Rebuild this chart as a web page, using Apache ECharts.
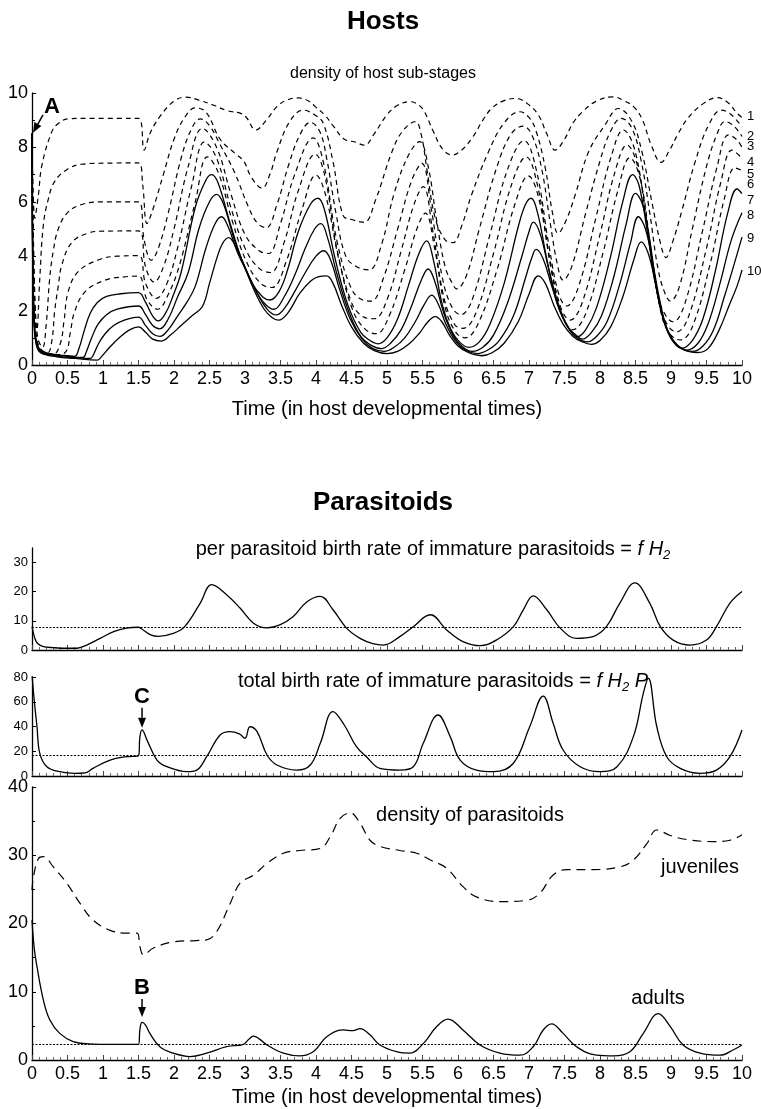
<!DOCTYPE html>
<html>
<head>
<meta charset="utf-8">
<script src="https://cdn.jsdelivr.net/npm/echarts/dist/echarts.min.js"></script>
<style>
  html, body { margin: 0; padding: 0; background: #fff; }
  #chart { width: 761px; height: 1109px; }
</style>
</head>
<body>
<div id="chart"></div>
<script>
// Host sub-stage densities, [time, density] (stage 1 = youngest)
const stage1 = [[0,8.5],[0.04,5.4],[0.09,6.25],[0.14,7.35],[0.28,8.58],[0.37,8.88],[0.51,9.05],[0.8,9.07],[1.5,9.07],[1.58,7.9],[1.66,8.5],[1.8,9.13],[2.0,9.7],[2.17,9.85],[2.35,9.74],[2.55,9.56],[2.75,9.35],[2.93,9.26],[3.02,9.1],[3.15,8.64],[3.3,9.0],[3.45,9.5],[3.6,9.75],[3.75,9.82],[3.9,9.7],[3.99,9.5],[4.12,9.2],[4.24,8.8],[4.4,8.3],[4.55,8.2],[4.68,8.08],[4.82,8.5],[5.0,9.2],[5.15,9.55],[5.33,9.68],[5.45,9.55],[5.53,9.3],[5.65,8.6],[5.78,7.95],[5.92,7.72],[6.05,7.9],[6.2,8.35],[6.35,9.0],[6.48,9.45],[6.65,9.72],[6.82,9.8],[6.98,9.6],[7.13,9.2],[7.25,8.5],[7.37,7.9],[7.5,8.3],[7.62,8.9],[7.75,9.3],[7.95,9.7],[8.18,9.86],[8.35,9.7],[8.49,9.45],[8.6,9.0],[8.72,8.1],[8.86,7.45],[8.98,7.9],[9.1,8.5],[9.24,9.08],[9.45,9.6],[9.65,9.83],[9.8,9.65],[9.93,9.26],[10,9.1]];
const stage2 = [[0,8.5],[0.03,3.5],[0.07,1.3],[0.11,3.2],[0.16,5.15],[0.23,6.1],[0.32,6.75],[0.5,7.2],[0.7,7.38],[1.0,7.42],[1.5,7.43],[1.56,6.6],[1.62,5.2],[1.7,5.7],[1.85,7.0],[2.0,8.3],[2.15,9.1],[2.3,9.45],[2.45,9.3],[2.65,8.3],[2.85,7.8],[2.98,7.5],[3.09,6.9],[3.24,6.5],[3.35,7.0],[3.45,7.84],[3.63,8.95],[3.82,9.37],[3.98,9.2],[4.1,8.9],[4.24,7.47],[4.38,5.5],[4.5,5.35],[4.68,5.25],[4.83,6.0],[5.07,7.84],[5.22,8.6],[5.4,8.95],[5.48,8.5],[5.56,7.23],[5.68,5.39],[5.82,4.6],[5.93,4.5],[6.05,5.1],[6.19,6.25],[6.43,7.84],[6.65,8.9],[6.87,9.31],[7.0,9.1],[7.1,8.6],[7.23,7.23],[7.33,5.6],[7.41,4.84],[7.52,5.3],[7.65,6.25],[7.84,7.84],[8.07,8.82],[8.26,9.43],[8.45,8.95],[8.59,7.84],[8.73,6.0],[8.85,4.5],[8.93,3.95],[9.02,4.5],[9.15,5.64],[9.34,7.47],[9.53,8.82],[9.71,9.37],[9.85,9.2],[10,8.75]];
const stage3 = [[0,8.5],[0.03,3.0],[0.08,1.0],[0.15,0.65],[0.2,1.5],[0.25,3.2],[0.3,4.2],[0.37,5.0],[0.5,5.6],[0.7,5.9],[1.0,6.0],[1.5,6.0],[1.58,4.6],[1.68,3.85],[1.78,4.3],[1.92,5.6],[2.1,7.6],[2.25,8.7],[2.37,9.05],[2.5,8.8],[2.65,8.1],[2.85,7.1],[3.05,5.8],[3.18,5.2],[3.3,5.05],[3.45,5.9],[3.62,7.4],[3.78,8.5],[3.92,8.92],[4.05,8.6],[4.15,7.6],[4.28,5.6],[4.42,4.0],[4.58,3.6],[4.75,3.5],[4.92,4.4],[5.1,6.3],[5.3,7.7],[5.46,8.21],[5.58,7.3],[5.7,5.3],[5.82,3.6],[5.92,3.0],[5.98,2.8],[6.12,3.3],[6.3,5.0],[6.55,7.3],[6.75,8.5],[6.92,8.78],[7.05,8.4],[7.18,7.2],[7.3,5.2],[7.4,3.7],[7.48,3.12],[7.6,3.6],[7.8,5.6],[8.0,7.5],[8.15,8.6],[8.3,9.07],[8.45,8.7],[8.58,7.5],[8.7,5.6],[8.82,3.5],[8.92,2.6],[8.99,2.35],[9.12,2.9],[9.3,5.0],[9.5,7.3],[9.65,8.5],[9.76,8.95],[9.88,8.8],[10,8.4]];
const stage4 = [[0,8.5],[0.02,3.5],[0.06,1.1],[0.12,0.6],[0.22,0.45],[0.28,0.9],[0.32,2.0],[0.37,2.9],[0.42,3.68],[0.56,4.5],[0.79,4.85],[1.0,4.92],[1.5,4.93],[1.6,3.6],[1.72,3.05],[1.85,3.6],[2.0,5.0],[2.2,7.3],[2.4,8.7],[2.6,8.0],[2.8,6.3],[3.0,4.8],[3.2,4.2],[3.33,4.1],[3.5,5.2],[3.7,7.0],[3.96,8.35],[4.1,7.5],[4.3,4.5],[4.5,2.8],[4.65,2.4],[4.78,2.35],[4.95,3.2],[5.15,5.0],[5.35,6.8],[5.49,7.41],[5.62,5.8],[5.78,3.2],[5.92,2.1],[6.04,1.85],[6.2,2.4],[6.45,4.8],[6.7,7.2],[6.93,8.25],[7.1,7.2],[7.28,4.4],[7.42,2.6],[7.53,2.17],[7.7,2.9],[7.95,5.5],[8.15,7.6],[8.33,8.64],[8.5,7.8],[8.67,5.0],[8.82,2.5],[8.93,1.8],[9.03,1.59],[9.2,2.3],[9.45,5.0],[9.65,7.3],[9.81,8.46],[9.92,8.3],[10,8.0]];
const stage5 = [[0,8.5],[0.02,3.2],[0.05,1.2],[0.12,0.55],[0.3,0.4],[0.4,0.8],[0.45,1.6],[0.51,2.7],[0.65,3.43],[0.93,3.86],[1.2,4.0],[1.5,4.02],[1.6,3.0],[1.75,2.45],[1.9,3.0],[2.05,4.3],[2.25,6.6],[2.43,8.2],[2.6,7.6],[2.8,5.8],[3.0,4.3],[3.2,3.55],[3.36,3.4],[3.55,4.5],[3.75,6.4],[3.99,7.75],[4.12,7.0],[4.3,4.2],[4.5,2.3],[4.65,1.8],[4.82,1.7],[5.0,2.4],[5.2,4.2],[5.38,5.9],[5.51,6.56],[5.64,5.0],[5.8,2.5],[5.95,1.5],[6.07,1.35],[6.25,1.9],[6.5,4.1],[6.75,6.6],[6.96,7.65],[7.12,6.6],[7.3,3.8],[7.45,2.1],[7.58,1.65],[7.75,2.3],[8.0,4.8],[8.2,7.0],[8.38,8.09],[8.54,7.2],[8.7,4.5],[8.85,2.1],[8.97,1.4],[9.08,1.22],[9.25,1.8],[9.5,4.3],[9.7,6.7],[9.86,7.9],[10,7.6]];
const stage6 = [[0,8.5],[0.02,3.0],[0.05,1.1],[0.12,0.5],[0.35,0.38],[0.48,0.5],[0.54,1.2],[0.6,1.96],[0.75,2.7],[1.03,3.12],[1.3,3.24],[1.5,3.27],[1.62,2.4],[1.77,2.05],[1.92,2.6],[2.08,3.7],[2.3,6.0],[2.47,7.65],[2.62,7.1],[2.82,5.3],[3.02,3.8],[3.22,3.0],[3.38,2.85],[3.58,3.8],[3.8,5.7],[4.0,6.98],[4.13,6.3],[4.32,3.9],[4.52,2.0],[4.7,1.3],[4.85,1.15],[5.03,1.8],[5.25,3.5],[5.42,5.0],[5.54,5.58],[5.67,4.3],[5.82,2.1],[5.97,1.2],[6.1,1.0],[6.28,1.5],[6.55,3.5],[6.8,5.9],[6.99,6.95],[7.14,6.1],[7.32,3.4],[7.47,1.8],[7.62,1.3],[7.8,1.9],[8.05,4.2],[8.25,6.4],[8.42,7.62],[8.57,6.8],[8.72,4.2],[8.87,1.8],[9.0,1.1],[9.13,0.92],[9.3,1.4],[9.55,3.7],[9.75,6.1],[9.9,7.25],[10,7.15]];
const stage7 = [[0,8.5],[0.01,4.2],[0.03,1.8],[0.06,0.9],[0.12,0.55],[0.25,0.42],[0.45,0.35],[0.6,0.32],[0.66,0.6],[0.74,1.3],[0.82,1.9],[0.92,2.3],[1.05,2.52],[1.25,2.62],[1.5,2.66],[1.6,2.3],[1.7,1.8],[1.78,1.62],[1.88,1.9],[1.98,2.5],[2.1,3.4],[2.3,5.8],[2.45,6.8],[2.53,7.0],[2.62,6.7],[2.78,5.3],[2.95,3.9],[3.1,3.0],[3.25,2.5],[3.35,2.39],[3.48,2.7],[3.6,3.5],[3.75,4.9],[3.92,5.9],[4.03,6.13],[4.12,5.7],[4.27,3.9],[4.45,2.2],[4.63,1.2],[4.76,0.9],[4.87,0.78],[5.0,1.0],[5.15,1.7],[5.3,2.9],[5.45,4.1],[5.56,4.56],[5.65,3.9],[5.78,2.2],[5.9,1.3],[6.02,0.85],[6.15,0.65],[6.3,0.85],[6.45,1.5],[6.65,3.0],[6.85,5.1],[6.95,5.9],[7.03,6.13],[7.12,5.6],[7.25,3.9],[7.38,2.4],[7.5,1.6],[7.6,1.2],[7.68,1.04],[7.8,1.3],[7.95,2.1],[8.15,4.0],[8.32,6.0],[8.46,7.0],[8.55,6.6],[8.66,5.0],[8.78,3.0],[8.9,1.6],[9.02,0.9],[9.15,0.62],[9.3,0.9],[9.45,1.7],[9.62,3.4],[9.8,5.6],[9.93,6.47],[10,6.3]];
const stage8 = [[0,8.5],[0.01,4.0],[0.03,1.7],[0.06,0.85],[0.12,0.5],[0.3,0.38],[0.55,0.3],[0.72,0.28],[0.76,0.45],[0.84,1.0],[0.93,1.5],[1.05,1.85],[1.2,2.05],[1.5,2.17],[1.6,1.85],[1.7,1.45],[1.8,1.33],[1.92,1.7],[2.05,2.5],[2.2,3.4],[2.35,5.0],[2.5,6.0],[2.6,6.27],[2.7,5.9],[2.85,4.6],[3.0,3.6],[3.18,2.6],[3.3,2.2],[3.41,2.05],[3.55,2.5],[3.7,3.3],[3.85,4.3],[3.98,5.0],[4.07,5.2],[4.16,4.7],[4.3,3.3],[4.47,1.9],[4.63,1.05],[4.78,0.72],[4.92,0.6],[5.05,0.8],[5.2,1.3],[5.35,2.2],[5.48,3.1],[5.58,3.53],[5.67,3.1],[5.8,1.9],[5.93,1.1],[6.05,0.7],[6.2,0.5],[6.35,0.65],[6.5,1.1],[6.7,2.3],[6.9,4.0],[7.0,4.9],[7.06,5.25],[7.16,4.8],[7.28,3.5],[7.42,2.2],[7.55,1.4],[7.66,1.1],[7.75,0.95],[7.88,1.2],[8.02,1.8],[8.2,3.3],[8.37,5.2],[8.5,6.31],[8.6,5.9],[8.7,4.6],[8.8,2.8],[8.92,1.5],[9.05,0.85],[9.22,0.55],[9.38,0.8],[9.52,1.5],[9.68,2.9],[9.85,4.6],[10,5.6]];
const stage9 = [[0,8.5],[0.01,3.8],[0.03,1.6],[0.06,0.8],[0.12,0.48],[0.35,0.33],[0.6,0.27],[0.82,0.24],[0.86,0.35],[0.94,0.8],[1.03,1.15],[1.15,1.45],[1.3,1.65],[1.5,1.76],[1.6,1.45],[1.7,1.15],[1.8,1.05],[1.92,1.3],[2.05,1.8],[2.18,2.3],[2.3,2.9],[2.45,4.3],[2.58,5.2],[2.67,5.45],[2.76,5.1],[2.9,4.1],[3.05,3.3],[3.2,2.5],[3.33,2.0],[3.44,1.84],[3.56,2.1],[3.7,2.7],[3.85,3.4],[4.0,4.0],[4.11,4.2],[4.2,3.9],[4.33,2.8],[4.48,1.7],[4.65,0.95],[4.8,0.6],[4.96,0.5],[5.1,0.65],[5.25,1.0],[5.4,1.6],[5.52,2.2],[5.63,2.57],[5.72,2.25],[5.83,1.5],[5.96,0.9],[6.1,0.55],[6.27,0.42],[6.42,0.55],[6.58,0.9],[6.78,1.8],[6.95,3.2],[7.04,3.95],[7.1,4.25],[7.2,3.9],[7.32,2.9],[7.45,1.9],[7.58,1.25],[7.7,0.95],[7.82,0.85],[7.95,1.05],[8.1,1.6],[8.27,2.9],[8.43,4.5],[8.54,5.45],[8.64,5.0],[8.74,3.8],[8.84,2.4],[8.95,1.3],[9.1,0.7],[9.3,0.5],[9.45,0.7],[9.6,1.3],[9.75,2.5],[9.9,3.8],[10,4.7]];
const stage10 = [[0,8.5],[0.01,3.6],[0.03,1.5],[0.06,0.75],[0.12,0.45],[0.35,0.3],[0.6,0.24],[0.92,0.18],[0.97,0.28],[1.1,0.67],[1.24,1.03],[1.38,1.3],[1.5,1.4],[1.6,1.2],[1.7,0.95],[1.82,0.88],[1.95,1.1],[2.1,1.45],[2.25,1.8],[2.4,2.15],[2.5,3.0],[2.6,3.9],[2.68,4.45],[2.77,4.68],[2.86,4.4],[2.98,3.7],[3.12,2.8],[3.27,2.05],[3.38,1.75],[3.47,1.65],[3.6,1.9],[3.77,2.63],[3.93,3.1],[4.04,3.25],[4.15,3.28],[4.24,3.0],[4.36,2.2],[4.5,1.4],[4.67,0.8],[4.83,0.52],[5.0,0.42],[5.15,0.5],[5.3,0.75],[5.45,1.15],[5.58,1.6],[5.68,1.78],[5.77,1.6],[5.88,1.1],[6.0,0.7],[6.15,0.45],[6.33,0.34],[6.48,0.45],[6.65,0.8],[6.85,1.6],[7.0,2.6],[7.13,3.28],[7.23,3.0],[7.35,2.2],[7.48,1.5],[7.62,1.05],[7.75,0.85],[7.88,0.76],[8.0,0.9],[8.15,1.4],[8.32,2.5],[8.48,3.9],[8.58,4.53],[8.68,4.1],[8.78,3.0],[8.88,1.8],[9.0,1.0],[9.15,0.6],[9.38,0.46],[9.52,0.6],[9.68,1.3],[9.82,2.2],[9.93,2.9],[10,3.5]];

const hostStages = [stage1, stage2, stage3, stage4, stage5, stage6, stage7, stage8, stage9, stage10];
const stageNames = ['1', '2', '3', '4', '5', '6', '7', '8', '9', '10'];
// height at which each stage number is written beside the right end of the axis
const stageNameLevels = [9.15, 8.4, 8.05, 7.45, 7.0, 6.65, 6.05, 5.5, 4.65, 3.45];

// Per parasitoid birth rate of immature parasitoids, f H2
const perCapitaBirth = [[0,8.0],[0.04,4.0],[0.08,2.2],[0.16,1.15],[0.3,0.8],[0.49,0.6],[0.63,0.6],[0.77,1.7],[0.96,4.0],[1.15,6.3],[1.33,7.5],[1.5,7.8],[1.58,6.6],[1.68,5.1],[1.78,4.7],[1.99,5.7],[2.15,8.0],[2.37,16.1],[2.53,22.4],[2.74,19.0],[2.93,14.4],[3.12,9.2],[3.31,7.6],[3.49,8.6],[3.68,11.5],[3.87,16.5],[4.06,18.4],[4.24,13.8],[4.43,7.5],[4.62,4.0],[4.8,2.2],[4.95,1.7],[5.18,4.6],[5.37,8.0],[5.61,12.1],[5.84,6.9],[6.07,2.9],[6.31,1.5],[6.54,3.4],[6.78,8.0],[6.92,13.8],[7.06,18.6],[7.25,13.8],[7.44,7.5],[7.67,4.0],[7.9,4.6],[8.09,8.0],[8.28,16.1],[8.49,23.0],[8.7,16.1],[8.85,8.0],[9.03,3.4],[9.27,1.7],[9.5,3.4],[9.64,8.0],[9.83,16.1],[10,20.1]];
const perCapitaLevel = 7.8;

// Total birth rate of immature parasitoids, f H2 P
const totalBirth = [[0,82],[0.03,62],[0.07,40],[0.11,18.3],[0.21,7.5],[0.39,3.5],[0.6,2.2],[0.75,2.6],[0.86,6.2],[1.1,12.9],[1.33,15.6],[1.5,16.4],[1.52,31.8],[1.55,37.2],[1.62,29],[1.76,12.9],[1.9,7.5],[2.18,3.5],[2.32,4.8],[2.46,15.6],[2.65,33.1],[2.79,35.8],[2.92,34],[3.0,30.5],[3.07,39.8],[3.17,35.8],[3.31,17],[3.45,8.9],[3.73,4.8],[3.92,8.9],[4.06,26.4],[4.24,52],[4.4,41],[4.57,23.7],[4.71,15.6],[4.9,6.2],[5.18,4.8],[5.37,7.5],[5.51,26.4],[5.72,49.3],[5.89,31.8],[6.03,12.9],[6.26,4.8],[6.5,3.5],[6.78,10.3],[7.01,39.8],[7.2,64.6],[7.34,42.6],[7.48,21],[7.72,7.5],[8.0,3.5],[8.24,7.5],[8.47,31.8],[8.61,66.8],[8.68,79],[8.8,39.8],[8.94,15.6],[9.13,6.2],[9.41,2.2],[9.64,4.8],[9.83,15.6],[10,37.2]];
const totalBirthLevel = 16.5;

// Parasitoid densities
const juveniles = [[0,24.9],[0.02,26.8],[0.09,29.5],[0.16,29.8],[0.3,28.3],[0.49,25.9],[0.68,22.9],[0.86,20.5],[1.1,19.0],[1.33,18.6],[1.48,18.6],[1.52,16.6],[1.57,15.4],[1.71,16.4],[1.99,17.3],[2.3,17.5],[2.46,17.6],[2.6,18.8],[2.79,22.9],[2.93,25.9],[3.12,27.1],[3.31,28.8],[3.54,30.3],[3.77,30.7],[4.06,31.0],[4.2,32.7],[4.34,35.4],[4.48,36.2],[4.62,34.7],[4.76,32.2],[4.9,31.3],[5.18,30.7],[5.42,30.3],[5.61,29.3],[5.84,28.1],[6.07,25.4],[6.26,23.9],[6.59,23.2],[6.97,23.4],[7.15,24.4],[7.34,27.1],[7.53,27.9],[7.9,27.9],[8.28,28.3],[8.47,29.3],[8.66,31.7],[8.8,33.7],[8.99,32.9],[9.22,32.3],[9.6,32.0],[9.83,32.2],[10,33.0]];
const adults = [[0,20.5],[0.03,16.5],[0.07,13.7],[0.16,8.8],[0.25,5.9],[0.39,3.9],[0.58,2.7],[0.8,2.35],[0.96,2.3],[1.5,2.3],[1.52,4.5],[1.55,5.5],[1.6,5.1],[1.66,3.9],[1.8,1.95],[1.99,1.0],[2.23,0.5],[2.46,1.0],[2.74,1.95],[2.98,2.3],[3.05,3.0],[3.12,3.5],[3.2,3.1],[3.31,2.2],[3.54,1.0],[3.77,0.6],[3.96,1.2],[4.15,3.4],[4.38,4.4],[4.52,4.3],[4.62,4.6],[4.76,3.7],[4.9,2.2],[5.14,1.2],[5.32,1.0],[5.51,2.4],[5.7,4.9],[5.86,6.0],[6.07,4.4],[6.31,2.2],[6.59,1.0],[6.87,0.7],[7.06,1.95],[7.2,4.4],[7.32,5.3],[7.48,3.9],[7.67,1.95],[7.95,0.7],[8.19,0.6],[8.42,1.2],[8.61,3.9],[8.82,6.8],[8.99,4.9],[9.17,2.2],[9.41,1.0],[9.69,0.7],[9.88,1.5],[10,2.2]];
const adultLevel = 2.3;

const FONT = "'Liberation Sans', Arial, Helvetica, sans-serif";
const INK = '#000';

function timeAxis(gridIndex, withLabels, nameGap) {
  return {
    gridIndex, type: 'value', min: 0, max: 10, interval: 0.5,
    axisLine: { show: true, onZero: false, lineStyle: { color: INK, width: 1.3 } },
    axisTick: { show: true, inside: true, length: 5, lineStyle: { color: '#444', width: 1 } },
    minorTick: { show: true, splitNumber: 5, length: 3, lineStyle: { color: '#666', width: 1 } },
    splitLine: { show: false }, minorSplitLine: { show: false },
    axisLabel: { show: withLabels, color: INK, fontSize: 18, fontFamily: FONT, margin: 5 },
    name: withLabels ? 'Time (in host developmental times)' : '',
    nameLocation: 'middle', nameGap: nameGap || 30,
    nameTextStyle: { color: INK, fontSize: 20, fontFamily: FONT }
  };
}

function valueAxis(gridIndex, max, interval, fontSize, minorSplit) {
  return {
    gridIndex, type: 'value', min: 0, max, interval,
    axisLine: { show: true, onZero: false, lineStyle: { color: INK, width: 1.3 } },
    axisTick: { show: true, inside: true, length: 4, lineStyle: { color: INK, width: 1 } },
    minorTick: { show: !!minorSplit, splitNumber: minorSplit || 2, length: 3, lineStyle: { color: INK, width: 1 } },
    splitLine: { show: false }, minorSplitLine: { show: false },
    axisLabel: { color: INK, fontSize, fontFamily: FONT, margin: 4, showMaxLabel: max % interval === 0 }
  };
}

function curve(data, xAxisIndex, dash, width) {
  return {
    type: 'line', data, xAxisIndex, yAxisIndex: xAxisIndex,
    smooth: 0.4, symbol: 'none', showSymbol: false, silent: true,
    lineStyle: { color: INK, width: width || 1.3, type: dash || 'solid' }
  };
}

function levelLine(value) {
  return {
    silent: true, symbol: 'none', label: { show: false },
    lineStyle: { color: INK, width: 1, type: [2, 1.5] },
    data: [{ yAxis: value }]
  };
}

const gridBase = { left: 32, width: 710, containLabel: false, outerBoundsMode: 'none' };

const series = hostStages.map((data, i) => {
  const s = curve(data, 0, i < 6 ? [5, 4] : 'solid', i < 6 ? 1.2 : 1.3);
  s.z = 10 - i;
  return s;
});
const perCapitaSeries = curve(perCapitaBirth, 1);
perCapitaSeries.markLine = levelLine(perCapitaLevel);
const totalSeries = curve(totalBirth, 2);
totalSeries.markLine = levelLine(totalBirthLevel);
const adultSeries = curve(adults, 3);
adultSeries.markLine = levelLine(adultLevel);
series.push(perCapitaSeries, totalSeries, curve(juveniles, 3, [9, 6], 1.2), adultSeries);

const chart = echarts.init(document.getElementById('chart'), null, { renderer: 'canvas' });
chart.setOption({
  animation: false,
  backgroundColor: '#fff',
  grid: [
    Object.assign({ top: 93, height: 272 }, gridBase),
    Object.assign({ top: 548, height: 102 }, gridBase),
    Object.assign({ top: 677, height: 99 }, gridBase),
    Object.assign({ top: 787, height: 273 }, gridBase)
  ],
  xAxis: [timeAxis(0, true, 34), timeAxis(1, false), timeAxis(2, false), timeAxis(3, true, 27)],
  yAxis: [
    valueAxis(0, 10, 2, 18, 2),
    valueAxis(1, 35, 10, 13, 0),
    valueAxis(2, 80, 20, 13, 0),
    valueAxis(3, 40, 10, 18, 2)
  ],
  series
});

// Annotations placed in data coordinates of their panel
const toPx = (g, x, y) => chart.convertToPixel({ gridIndex: g }, [x, y]);

function plainText(text, x, y, size, opts) {
  return {
    type: 'text', x, y, silent: true, z: 100,
    style: Object.assign({
      text, fill: INK, font: (opts && opts.bold ? 'bold ' : '') + size + 'px ' + FONT,
      align: 'center', verticalAlign: 'middle'
    }, opts && opts.style)
  };
}

function arrow(tip, tail) {
  const dx = tip[0] - tail[0], dy = tip[1] - tail[1];
  const len = Math.hypot(dx, dy), ux = dx / len, uy = dy / len;
  const head = 10, half = 4;
  const bx = tip[0] - ux * head, by = tip[1] - uy * head;
  return [
    { type: 'line', silent: true, z: 100, shape: { x1: tail[0], y1: tail[1], x2: bx, y2: by }, style: { stroke: INK, lineWidth: 1.5 } },
    { type: 'polygon', silent: true, z: 100, shape: { points: [tip, [bx - uy * half, by + ux * half], [bx + uy * half, by - ux * half]] }, style: { fill: INK } }
  ];
}

function equationTitle(prefix, tail, x, y) {
  const base = { fontSize: 20, fontFamily: FONT, fill: INK };
  const ital = Object.assign({}, base, { fontStyle: 'italic' });
  const sub = { fontSize: 13, fontFamily: FONT, fontStyle: 'italic', fill: INK, padding: [12, 0, 0, 0] };
  let text = '{n|' + prefix + '}{i|f H}{s|2}';
  if (tail) text += '{i| ' + tail + '}';
  return {
    type: 'text', x, y, silent: true, z: 100,
    style: { text, rich: { n: base, i: ital, s: sub }, align: 'center', verticalAlign: 'middle', fill: INK }
  };
}

const graphics = [
  plainText('Hosts', 383, 22, 26, { bold: true }),
  plainText('density of host sub-stages', 383, 74, 16),
  plainText('Parasitoids', 383, 503, 26, { bold: true }),
  equationTitle('per parasitoid birth rate of immature parasitoids = ', '', 433, 549),
  equationTitle('total birth rate of immature parasitoids = ', 'P', 443, 681),
  plainText('density of parasitoids', 470, 815, 20),
  plainText('juveniles', 700, 867, 20),
  plainText('adults', 658, 998, 20)
];

stageNames.forEach((name, i) => {
  const p = toPx(0, 10, stageNameLevels[i]);
  graphics.push(plainText(name, p[0] + 5, p[1], 13, { style: { align: 'left' } }));
});

// A: initial host density; C: spike in total birth rate; B: adult parasitoid pulse
const aTip = toPx(0, 0, 8.5);
graphics.push(...arrow([aTip[0] + 1, aTip[1] - 1], [aTip[0] + 11, aTip[1] - 19]));
graphics.push(plainText('A', aTip[0] + 20, aTip[1] - 27, 22, { bold: true }));

const cTip = toPx(2, 1.55, 39);
graphics.push(...arrow(cTip, [cTip[0], cTip[1] - 20]));
graphics.push(plainText('C', cTip[0], cTip[1] - 31, 22, { bold: true }));

const bTip = toPx(3, 1.55, 6.3);
graphics.push(...arrow(bTip, [bTip[0], bTip[1] - 18]));
graphics.push(plainText('B', bTip[0], bTip[1] - 29, 22, { bold: true }));

chart.setOption({ graphic: graphics });
</script>
</body>
</html>
